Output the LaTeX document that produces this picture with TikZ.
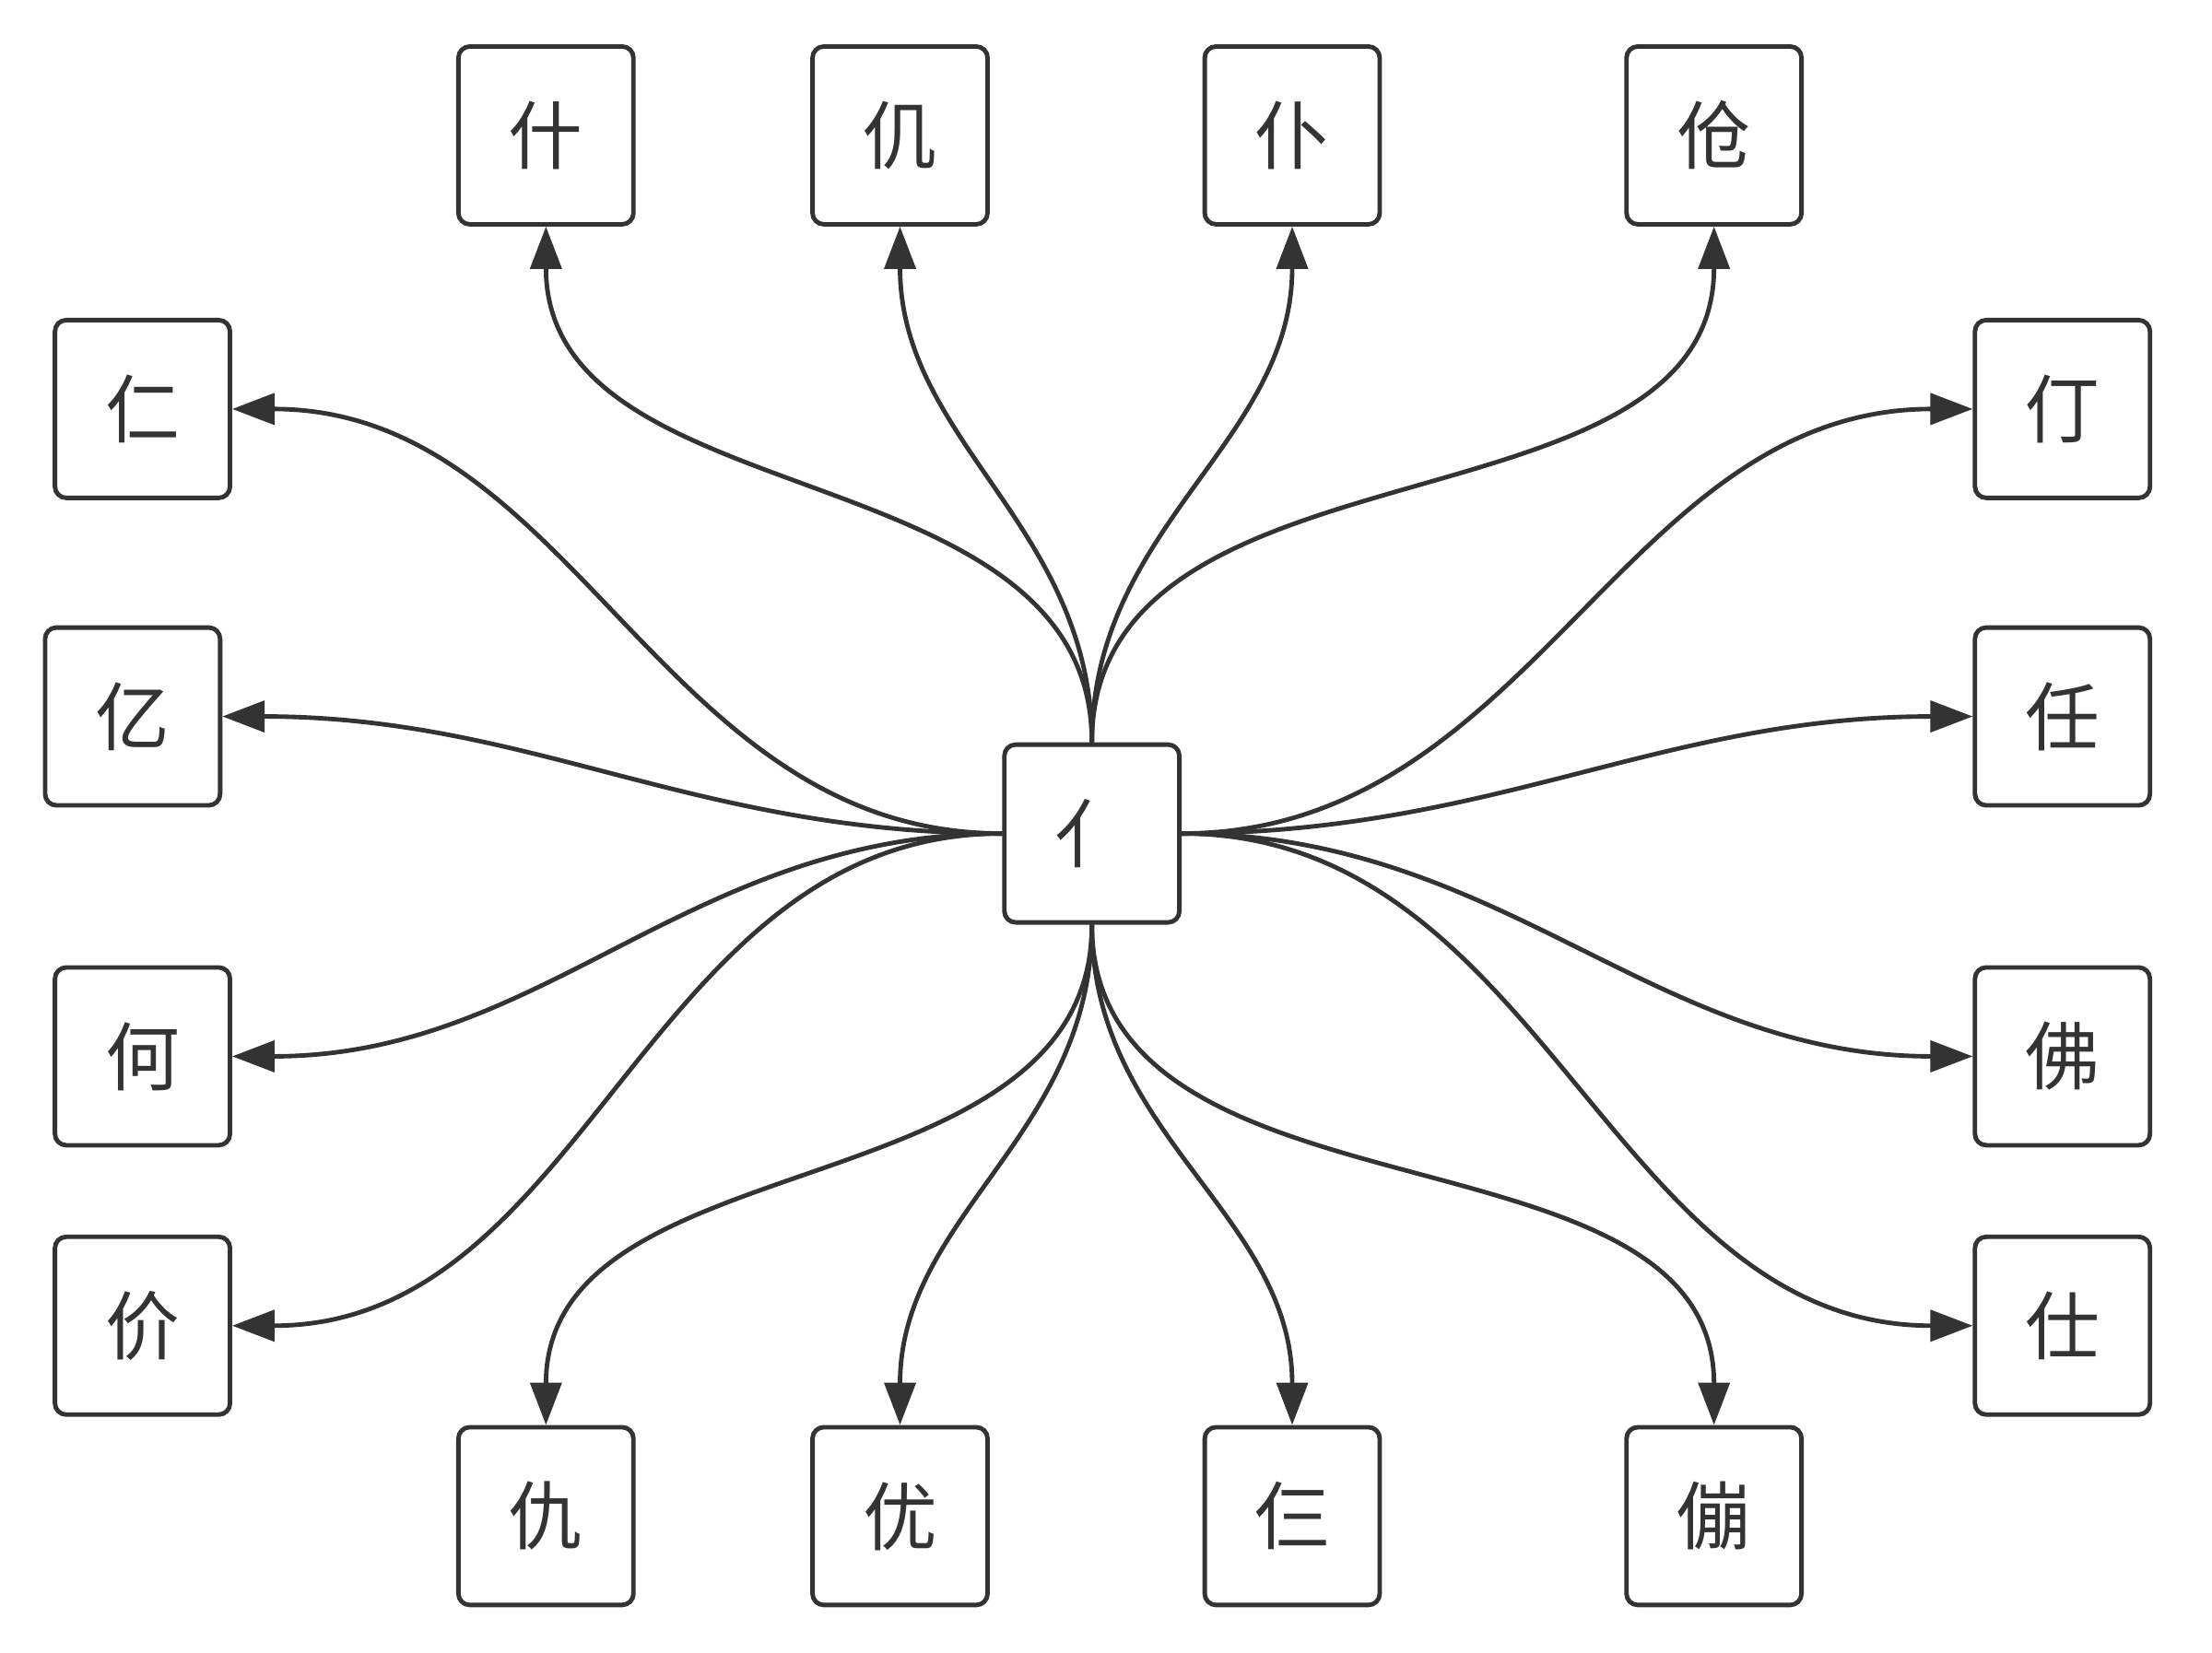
\documentclass[tikz,border=0pt]{standalone}
\usepackage{fontspec}
\newfontfamily\cjk{Noto Sans CJK SC}
\usetikzlibrary{arrows.meta}
\begin{document}
\begin{tikzpicture}[x=0.01cm,y=-0.01cm,
  box/.style={draw=black!80,line width=0.9pt,rounded corners=0.08cm,minimum width=1.24cm,minimum height=1.26cm,inner sep=0pt,font=\cjk\fontsize{15}{15}\selectfont,text=black!80},
  e/.style={draw=black!80,line width=0.9pt,-{Triangle[length=0.3cm,width=0.22cm]}}]
\useasboundingbox (0,0) rectangle (1568,1172);
\node[box] (c) at (774,591) {亻};
\node[box] (t1) at (387,96) {什};
\node[box] (t2) at (638,96) {仉};
\node[box] (t3) at (916,96) {仆};
\node[box] (t4) at (1215,96) {伧};
\node[box] (b1) at (387,1075) {仇};
\node[box] (b2) at (638,1075) {优};
\node[box] (b3) at (916,1075) {仨};
\node[box] (b4) at (1215,1075) {傰};
\node[box] (l1) at (101,290) {仁};
\node[box] (l2) at (94,508) {亿};
\node[box] (l3) at (101,749) {何};
\node[box] (l4) at (101,940) {价};
\node[box] (r1) at (1462,290) {仃};
\node[box] (r2) at (1462,508) {任};
\node[box] (r3) at (1462,749) {佛};
\node[box] (r4) at (1462,940) {仕};
\foreach \n in {t1,t2,t3,t4} \draw[e] (c.north) to[out=90,in=-90] (\n.south);
\foreach \n in {b1,b2,b3,b4} \draw[e] (c.south) to[out=-90,in=90] (\n.north);
\foreach \n in {l1,l2,l3,l4} \draw[e] (c.west) to[out=180,in=0] (\n.east);
\foreach \n in {r1,r2,r3,r4} \draw[e] (c.east) to[out=0,in=180] (\n.west);
\end{tikzpicture}
\end{document}
